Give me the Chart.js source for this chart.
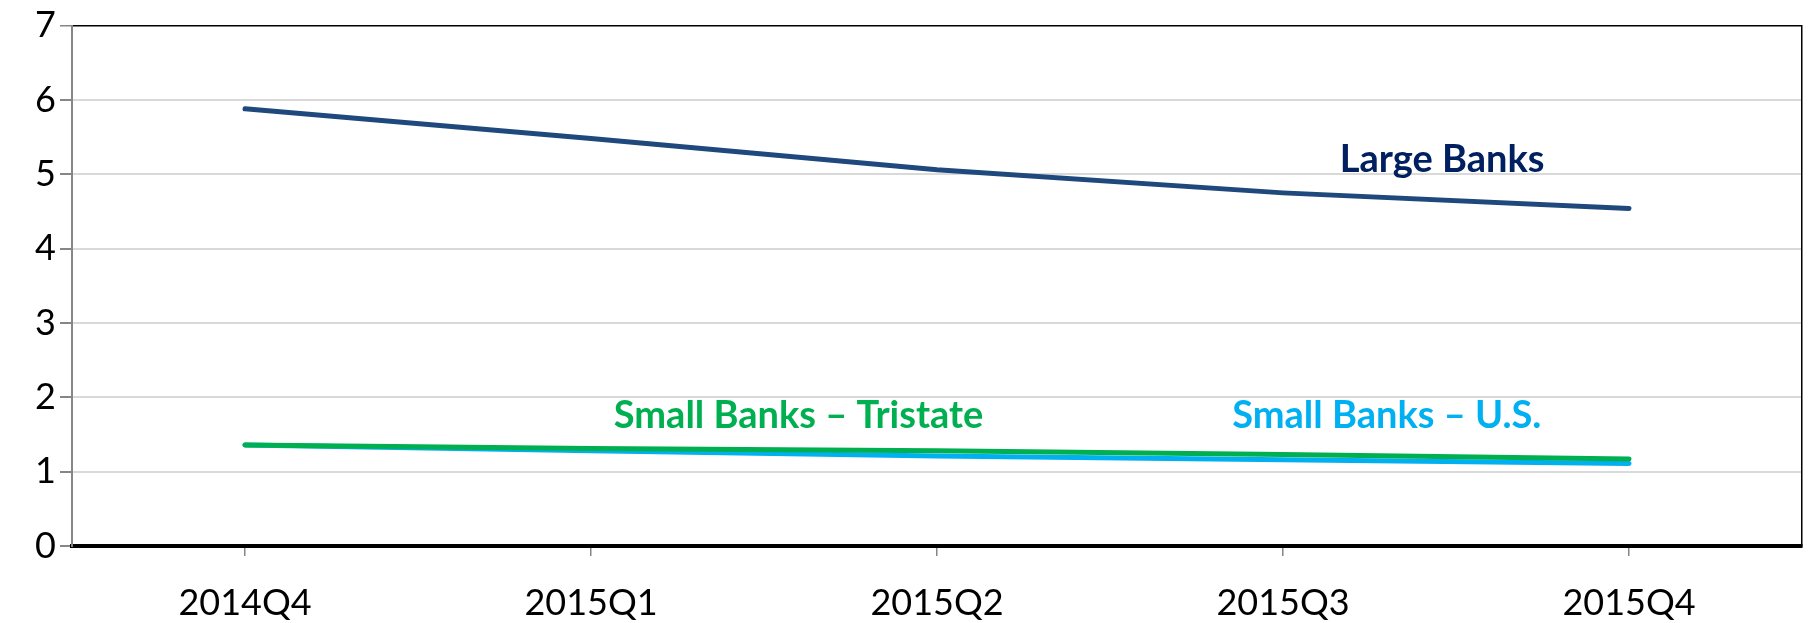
<!DOCTYPE html>
<html>
<head>
<meta charset="utf-8">
<script src="https://cdn.jsdelivr.net/npm/chart.js@4/dist/chart.umd.min.js"></script>
<style>
  html, body { margin: 0; padding: 0; background: #ffffff; }
  #wrap { width: 1810px; height: 623px; position: relative; }
</style>
</head>
<body>
<div id="wrap"><canvas id="chart" width="1810" height="623"></canvas></div>
<script>
// Quarters on the horizontal axis
const quarters = ['2014Q4', '2015Q1', '2015Q2', '2015Q3', '2015Q4'];

// Series values
const largeBanks = [5.88, 5.48, 5.06, 4.75, 4.54];
const smallTristate = [1.36, 1.31, 1.28, 1.23, 1.17];
const smallUS = [1.36, 1.28, 1.21, 1.16, 1.11];

// Vertical axis range
const yMin = 0;
const yMax = 7;
const yStep = 1;

// Series names, written next to their lines
const seriesLabels = [
  { text: 'Large Banks', color: '#002060', at: 3.46, value: 5.2 },
  { text: 'Small Banks \u2013 Tristate', color: '#00B050', at: 1.6, value: 1.75 },
  { text: 'Small Banks \u2013 U.S.', color: '#00B0F0', at: 3.3, value: 1.75 }
];

const FONT = 'Lato, "Open Sans", "Liberation Sans", sans-serif';

// Writes each series name at a (category, value) anchor
const seriesLabelPlugin = {
  id: 'seriesLabels',
  afterDatasetsDraw(chart) {
    const { ctx, scales } = chart;
    ctx.save();
    ctx.font = 'bold 38px ' + FONT;
    ctx.textAlign = 'center';
    ctx.textBaseline = 'middle';
    seriesLabels.forEach(l => {
      ctx.fillStyle = l.color;
      ctx.fillText(l.text, scales.x.getPixelForValue(l.at), scales.y.getPixelForValue(l.value));
    });
    ctx.restore();
  }
};

new Chart(document.getElementById('chart'), {
  type: 'line',
  data: {
    labels: quarters,
    datasets: [
      { label: 'Large Banks', data: largeBanks, borderColor: '#1F497D' },
      { label: 'Small Banks \u2013 Tristate', data: smallTristate, borderColor: '#00B050' },
      { label: 'Small Banks \u2013 U.S.', data: smallUS, borderColor: '#00B0F0' }
    ]
  },
  options: {
    responsive: false,
    animation: false,
    layout: { padding: { top: 23, right: 8, left: 0, bottom: 0 } },
    elements: {
      line: { borderWidth: 5, tension: 0, borderCapStyle: 'round', borderJoinStyle: 'round', fill: false },
      point: { radius: 0, hoverRadius: 0 }
    },
    plugins: {
      legend: { display: false },
      tooltip: { enabled: false }
    },
    scales: {
      x: {
        offset: true,
        grid: {
          offset: false,
          drawOnChartArea: false,
          drawTicks: true,
          tickLength: 10,
          tickColor: '#868686',
          lineWidth: 1.5
        },
        border: { color: '#000000', width: 4 },
        ticks: {
          color: '#000000',
          padding: 26,
          maxRotation: 0,
          font: { family: FONT, size: 36 }
        },
        afterFit(scale) { scale.height = 77; }
      },
      y: {
        min: yMin,
        max: yMax,
        ticks: {
          stepSize: yStep,
          color: '#000000',
          padding: 4,
          font: { family: FONT, size: 36 }
        },
        grid: {
          color: ctx => (ctx.tick && ctx.tick.value === yMax ? '#000000' : '#D9D9D9'),
          lineWidth: ctx => (ctx.tick && ctx.tick.value === yMax ? 1.5 : 2),
          tickLength: 12,
          tickColor: '#868686'
        },
        border: { color: '#868686', width: 2 },
        afterFit(scale) { scale.width = 72; }
      },
      yRight: {
        position: 'right',
        min: yMin,
        max: yMax,
        ticks: { display: false },
        grid: { drawOnChartArea: false, drawTicks: false },
        border: { color: '#000000', width: 1.5 },
        afterFit(scale) { scale.width = 0; }
      }
    }
  },
  plugins: [seriesLabelPlugin]
});
</script>
</body>
</html>
